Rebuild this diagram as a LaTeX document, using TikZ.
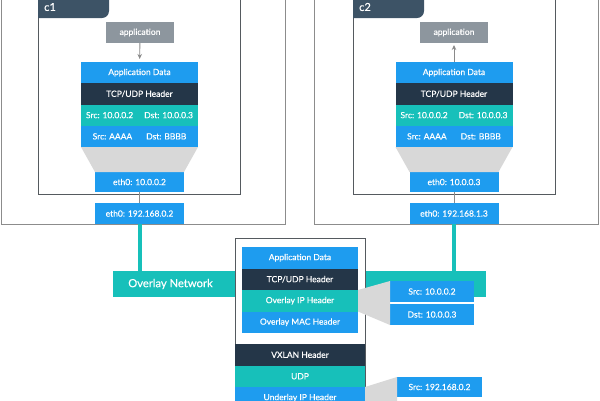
\documentclass[tikz,border=0pt]{standalone}
\usepackage{fontspec}
\setmainfont{Lato}
\newfontfamily\cellfont{Lato}[FakeBold=0.35]
\usetikzlibrary{arrows.meta}
\definecolor{cblue}{HTML}{1E9CEF}
\definecolor{cdark}{HTML}{243648}
\definecolor{cteal}{HTML}{17C0BA}
\definecolor{ctab}{HTML}{3D5366}
\definecolor{capp}{HTML}{8D969E}
\definecolor{cfun}{HTML}{D8D8D8}
\definecolor{chost}{HTML}{8C8C8C}
\definecolor{ccont}{HTML}{555A5F}
\definecolor{carr}{HTML}{8A8A8A}
\begin{document}
\begin{tikzpicture}[x=1pt,y=-1pt,
  cell/.style={fill=#1, inner sep=0pt, outer sep=0pt, text=white, anchor=north west,
    font=\cellfont\fontsize{8.5}{10}\selectfont},
  arr/.style={draw=carr, line width=0.9pt, -{Stealth[length=5pt,width=4.5pt]}},
  hostline/.style={draw=chost, line width=0.9pt},
  contline/.style={draw=ccont, line width=1pt},
  tablbl/.style={text=white, anchor=west, font=\cellfont\fontsize{11}{13}\selectfont, inner sep=0pt}]
\useasboundingbox (0,0) rectangle (600,400);
\clip (0,0) rectangle (600,400);

% host boxes
\draw[hostline] (1,-5) rectangle (285,224);
\draw[hostline] (314.5,-5) rectangle (598.5,224);
% container boxes
\draw[contline] (38,-5) rectangle (240,194);
\draw[contline] (353,-5) rectangle (555,194);
% tabs
\fill[ctab] (38,-5) -- (109,-5) -- (109,11) arc[start angle=0,end angle=90,radius=7] -- (38,18) -- cycle;
\fill[ctab] (353,-5) -- (424,-5) -- (424,11) arc[start angle=0,end angle=90,radius=7] -- (353,18) -- cycle;
\node[tablbl] (c1lbl) at (44,7) {c1};
\node[tablbl] (c2lbl) at (359,7) {c2};

% ===== container 1 =====
\node[cell=capp, minimum width=68pt, minimum height=21pt] (c1app) at (106,22) {application};
\node[cell=cblue, minimum width=117pt, minimum height=21.25pt] (c1ad) at (81,62) {Application Data};
\node[cell=cdark, minimum width=117pt, minimum height=21.25pt] (c1tcp) at (81,83.25) {TCP/UDP Header};
\node[cell=cteal, minimum width=117pt, minimum height=21.25pt] (c1ip) at (81,104.5) {Src: 10.0.0.2\hspace{11pt}Dst: 10.0.0.3};
\node[cell=cblue, minimum width=117pt, minimum height=21.25pt] (c1mac) at (81,125.75) {Src: AAAA\hspace{14pt}Dst: BBBB};
\node[cell=cblue, minimum width=89pt, minimum height=20pt] (c1eth) at (95,172) {eth0: 10.0.0.2};
\fill[cfun] (c1mac.south west) -- (c1mac.south east) -- (c1eth.north east) -- (c1eth.north west) -- cycle;
\draw[arr, shorten >=3pt] (c1app) -- (c1ad);
\node[cell=cblue, minimum width=89pt, minimum height=21pt] (h1eth) at (95,203) {eth0: 192.168.0.2};
\draw[draw=chost, line width=0.8pt] (c1eth) -- (h1eth);

% ===== container 2 =====
\node[cell=capp, minimum width=68pt, minimum height=21pt] (c2app) at (420,22) {application};
\node[cell=cblue, minimum width=117pt, minimum height=21.25pt] (c2ad) at (395.5,62) {Application Data};
\node[cell=cdark, minimum width=117pt, minimum height=21.25pt] (c2tcp) at (395.5,83.25) {TCP/UDP Header};
\node[cell=cteal, minimum width=117pt, minimum height=21.25pt] (c2ip) at (395.5,104.5) {Src: 10.0.0.2\hspace{11pt}Dst: 10.0.0.3};
\node[cell=cblue, minimum width=117pt, minimum height=21.25pt] (c2mac) at (395.5,125.75) {Src: AAAA\hspace{14pt}Dst: BBBB};
\node[cell=cblue, minimum width=89pt, minimum height=20pt] (c2eth) at (409.5,172) {eth0: 10.0.0.3};
\fill[cfun] (c2mac.south west) -- (c2mac.south east) -- (c2eth.north east) -- (c2eth.north west) -- cycle;
\draw[arr, shorten >=2pt] (c2ad) -- (c2app);
\node[cell=cblue, minimum width=89pt, minimum height=21pt] (h2eth) at (409.5,203) {eth0: 192.168.1.3};
\draw[draw=chost, line width=0.8pt] (c2eth) -- (h2eth);

% ===== overlay network bar =====
\node[fill=cteal, inner sep=0pt, outer sep=0pt, anchor=north west, minimum width=373pt, minimum height=26pt] (ovl) at (113,271) {};
\node[text=white, inner sep=0pt, font=\cellfont\fontsize{11.2}{13}\selectfont] (ovltxt) at (170.5,284) {Overlay Network};
\draw[cteal, line width=4pt] (h1eth.south) -- (h1eth.south |- ovl.north);
\draw[cteal, line width=4pt] (h2eth.south) -- (h2eth.south |- ovl.north);

% ===== middle packet box =====
\node[draw=ccont, line width=1pt, fill=white, inner sep=0pt, anchor=north west, minimum width=130pt, minimum height=190pt] (mid) at (235,238) {};
\node[cell=cblue, minimum width=116pt, minimum height=21.5pt] (mad) at (242,247) {Application Data};
\node[cell=cdark, minimum width=116pt, minimum height=21.5pt] (mtcp) at (242,268.5) {TCP/UDP Header};
\node[cell=cteal, minimum width=116pt, minimum height=21.5pt] (moip) at (242,290) {Overlay IP Header};
\node[cell=cblue, minimum width=116pt, minimum height=21.5pt] (mmac) at (242,311.5) {Overlay MAC Header};
\node[cell=cdark, minimum width=130pt, minimum height=21.5pt] (mvx) at (235,344) {VXLAN Header};
\node[cell=cteal, minimum width=130pt, minimum height=21.5pt] (mudp) at (235,365.5) {UDP};
\node[cell=cblue, minimum width=130pt, minimum height=21.5pt] (muip) at (235,387) {Underlay IP Header};

% ===== callouts =====
\node[cell=cblue, minimum width=84pt, minimum height=21pt] (src1) at (390,281) {Src: 10.0.0.2};
\node[cell=cblue, minimum width=84pt, minimum height=21pt] (dst1) at (390,304) {Dst: 10.0.0.3};
\fill[cfun] (moip.north east) -- (src1.north west) -- (dst1.south west) -- (moip.south east) -- cycle;
\node[cell=cblue, minimum width=85pt, minimum height=20pt] (src2) at (397,377) {Src: 192.168.0.2};
\coordinate (src2low) at (397,430);
\fill[cfun] (muip.north east) -- (src2.north west) -- (src2low) -- (muip.south east) -- cycle;
\end{tikzpicture}
\end{document}
